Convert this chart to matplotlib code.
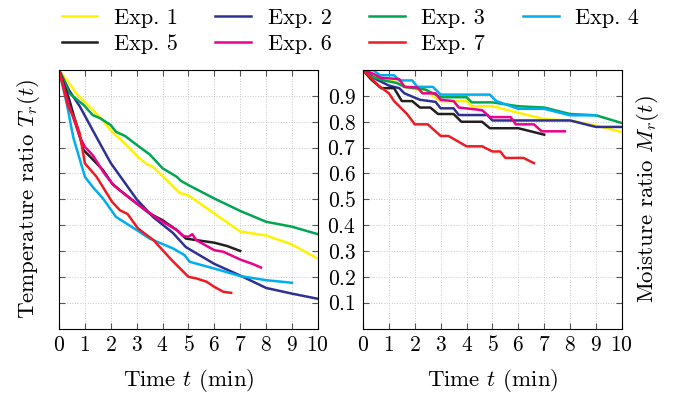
import matplotlib
matplotlib.use('Agg')
import matplotlib.pyplot as plt

plt.rcParams['font.family'] = 'serif'
plt.rcParams['font.serif'] = ['cmr10']
plt.rcParams['mathtext.fontset'] = 'cm'
plt.rcParams['axes.formatter.use_mathtext'] = True
plt.rcParams['font.size'] = 15.5

labels = ['Exp. 1', 'Exp. 2', 'Exp. 3', 'Exp. 4', 'Exp. 5', 'Exp. 6', 'Exp. 7']
colors = ['#fff200', '#2e3192', '#00a651', '#00aeef', '#231f20', '#ec008c', '#ed1c24']

# temperature ratio (left)
temp_t = [
    [0, 0.5, 0.7, 1.1, 1.6, 2.1, 2.35, 2.75, 3.1, 3.4, 3.6, 4.15, 4.65, 5.0, 6.0, 7.0, 8.0, 9.0, 10.0],
    [0, 0.4, 0.8, 1.45, 2.0, 2.5, 3.0, 3.65, 4.4, 4.9, 6.0, 7.0, 8.0, 9.0, 10.0],
    [0, 0.4, 0.95, 1.3, 1.6, 2.0, 2.2, 2.55, 3.1, 3.5, 4.0, 4.55, 4.7, 5.0, 6.0, 7.0, 8.0, 9.0, 10.0],
    [0, 0.3, 0.55, 1.0, 1.3, 1.7, 2.2, 3.0, 3.5, 4.4, 4.85, 5.05, 6.0, 7.0, 8.0, 9.0],
    [0, 0.4, 0.95, 1.2, 1.7, 2.05, 2.35, 3.0, 3.5, 4.0, 4.55, 4.9, 6.0, 6.5, 7.0],
    [0, 0.4, 0.8, 1.0, 1.3, 1.75, 2.1, 2.75, 3.25, 3.9, 4.55, 4.8, 5.0, 5.15, 5.3, 6.0, 6.35, 7.0, 7.5, 7.8],
    [0, 0.35, 0.6, 0.8, 1.0, 1.45, 2.05, 2.35, 2.65, 3.05, 3.65, 4.35, 5.0, 5.3, 5.7, 6.0, 6.35, 6.65],
]
temp_v = [
    [1.0, 0.935, 0.905, 0.865, 0.815, 0.755, 0.735, 0.695, 0.66, 0.635, 0.628, 0.575, 0.525, 0.515, 0.445, 0.375, 0.36, 0.325, 0.27],
    [1.0, 0.92, 0.86, 0.74, 0.64, 0.57, 0.5, 0.43, 0.37, 0.315, 0.25, 0.205, 0.157, 0.135, 0.115],
    [1.0, 0.91, 0.865, 0.826, 0.813, 0.787, 0.761, 0.745, 0.703, 0.674, 0.62, 0.587, 0.572, 0.555, 0.503, 0.455, 0.413, 0.394, 0.365],
    [1.0, 0.87, 0.74, 0.587, 0.548, 0.503, 0.432, 0.381, 0.348, 0.31, 0.284, 0.258, 0.232, 0.203, 0.187, 0.177],
    [1.0, 0.884, 0.69, 0.665, 0.613, 0.561, 0.535, 0.484, 0.445, 0.419, 0.381, 0.348, 0.332, 0.319, 0.3],
    [1.0, 0.86, 0.742, 0.703, 0.671, 0.6, 0.555, 0.503, 0.465, 0.419, 0.381, 0.358, 0.355, 0.365, 0.342, 0.303, 0.297, 0.267, 0.249, 0.236],
    [1.0, 0.858, 0.813, 0.755, 0.639, 0.587, 0.49, 0.458, 0.443, 0.387, 0.342, 0.265, 0.2, 0.194, 0.181, 0.161, 0.142, 0.138],
]

# moisture ratio (right)
moist_t = [
    [0, 0.4, 0.9, 1.5, 1.7, 2.5, 2.7, 3.0, 4.0, 4.2, 5.0, 6.0, 7.0, 8.0, 9.0, 10.0],
    [0, 0.5, 1.0, 1.4, 1.6, 2.2, 2.8, 3.0, 3.5, 3.7, 4.8, 5.0, 8.0, 9.0, 10.0],
    [0, 0.3, 0.8, 1.3, 1.6, 2.4, 2.7, 3.0, 4.0, 4.2, 5.0, 6.0, 7.0, 8.0, 9.0, 10.0],
    [0, 0.4, 0.65, 1.2, 1.4, 1.9, 2.1, 2.7, 3.0, 4.9, 5.15, 6.0, 7.0, 8.0, 9.0],
    [0, 0.3, 0.7, 1.2, 1.5, 1.9, 2.2, 2.6, 2.9, 3.5, 3.8, 4.6, 4.9, 6.0, 7.0],
    [0, 0.3, 0.7, 1.4, 1.6, 2.1, 2.3, 2.8, 3.0, 3.5, 3.7, 4.6, 4.9, 5.7, 5.9, 6.6, 6.9, 7.8],
    [0, 0.3, 0.6, 1.0, 1.2, 1.5, 1.7, 2.0, 2.5, 3.0, 3.3, 4.0, 4.6, 5.0, 5.3, 5.5, 6.2, 6.6],
]
moist_v = [
    [1.0, 0.98, 0.96, 0.95, 0.93, 0.92, 0.9, 0.88, 0.88, 0.86, 0.86, 0.835, 0.81, 0.805, 0.785, 0.76],
    [1.0, 0.965, 0.94, 0.93, 0.91, 0.885, 0.877, 0.852, 0.852, 0.826, 0.826, 0.805, 0.805, 0.78, 0.78],
    [1.0, 0.975, 0.96, 0.95, 0.935, 0.925, 0.91, 0.895, 0.895, 0.875, 0.875, 0.86, 0.855, 0.83, 0.825, 0.795],
    [1.0, 1.0, 0.98, 0.98, 0.96, 0.96, 0.935, 0.935, 0.905, 0.905, 0.88, 0.85, 0.85, 0.825, 0.825],
    [1.0, 0.965, 0.93, 0.93, 0.88, 0.88, 0.855, 0.855, 0.83, 0.83, 0.8, 0.8, 0.775, 0.775, 0.75],
    [1.0, 0.99, 0.97, 0.965, 0.935, 0.933, 0.91, 0.91, 0.885, 0.88, 0.855, 0.845, 0.818, 0.818, 0.79, 0.79, 0.763, 0.763],
    [1.0, 0.97, 0.94, 0.91, 0.88, 0.85, 0.83, 0.79, 0.79, 0.745, 0.745, 0.705, 0.705, 0.685, 0.685, 0.66, 0.66, 0.64],
]

yticks = [0.1, 0.2, 0.3, 0.4, 0.5, 0.6, 0.7, 0.8, 0.9]
xticks = list(range(11))

fig = plt.figure(figsize=(6.83, 3.97), dpi=100)
ax1 = fig.add_axes([0.0864, 0.1725, 0.379, 0.651])
ax2 = fig.add_axes([0.5315, 0.1725, 0.379, 0.651])

lines = []
for i in range(7):
    ln, = ax1.plot(temp_t[i], temp_v[i], color=colors[i], linewidth=1.8)
    ax2.plot(moist_t[i], moist_v[i], color=colors[i], linewidth=1.8)
    lines.append(ln)

for ax in [ax1, ax2]:
    ax.set_xlim(0, 10)
    ax.set_ylim(0, 1)
    ax.set_xticks(xticks)
    ax.set_yticks(yticks)
    ax.grid(True, linestyle=':', color='#c8c8c8', linewidth=0.7)
    ax.tick_params(direction='in', length=4, color='#555555', top=True, right=True, pad=5)
    ax.set_xlabel('Time $t$ (min)', labelpad=8, fontsize=16.5)
    for s in ax.spines.values():
        s.set_linewidth(0.8)

ax1.tick_params(axis='y', labelleft=False)
ax1.set_ylabel('Temperature ratio $T_r(t)$', labelpad=12, fontsize=16.5)
ax2.tick_params(axis='y', pad=5)
ax2.yaxis.set_label_position('right')
ax2.set_ylabel('Moisture ratio $M_r(t)$', labelpad=9, fontsize=16.5)

# legend fills row by row in the reference
order = [0, 4, 1, 5, 2, 6, 3]
fig.legend([lines[k] for k in order], [labels[k] for k in order],
           loc='upper center', bbox_to_anchor=(0.513, 1.03), ncol=4, frameon=False,
           fontsize=16, handlelength=1.6, columnspacing=1.7, handletextpad=0.75,
           labelspacing=0.3)

fig.savefig('out.png', dpi=100)
